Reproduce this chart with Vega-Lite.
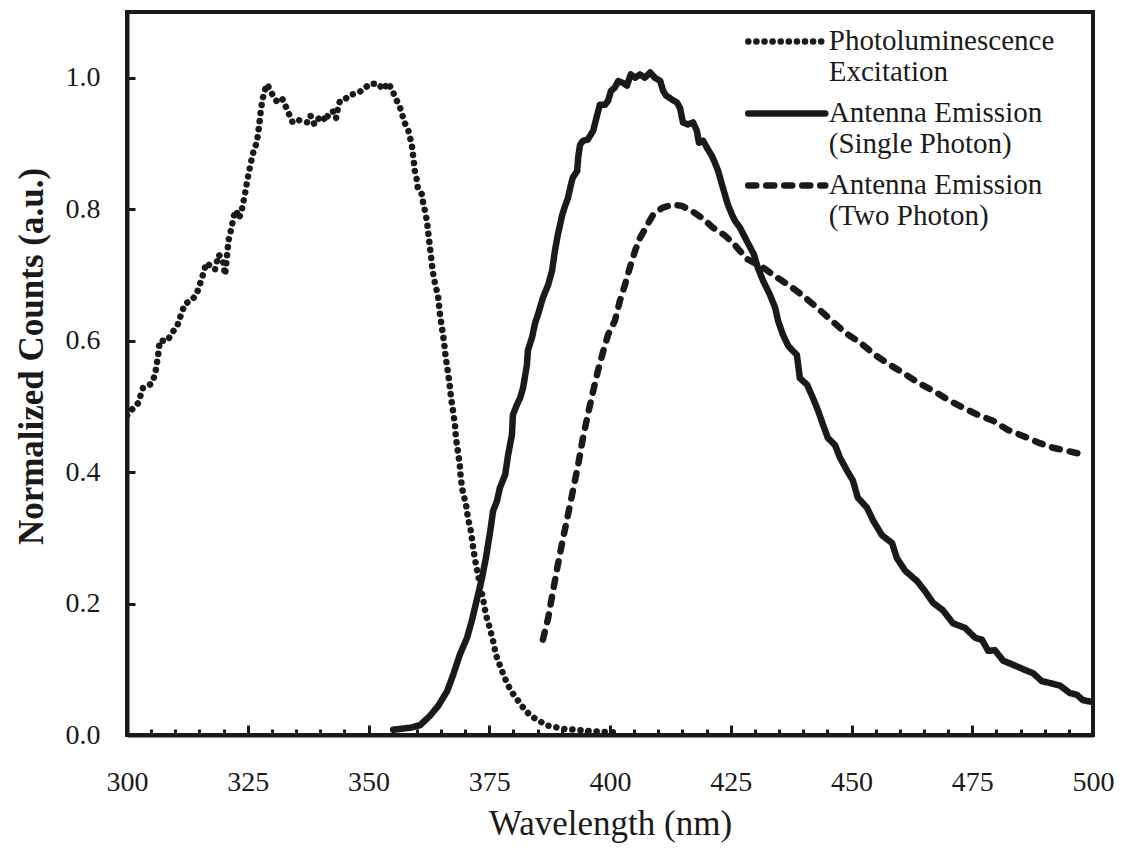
{
  "$schema": "https://vega.github.io/schema/vega-lite/v6.json",
  "width": 966,
  "height": 723,
  "autosize": {"type": "none"},
  "padding": {"left": 127, "top": 12, "right": 29, "bottom": 120},
  "background": "white",
  "config": {
    "view": {"stroke": "#1a1a1a", "strokeWidth": 4, "fill": null},
    "axis": {"zindex": 1, "grid": false, "domainColor": "#1a1a1a", "domainWidth": 4, "tickColor": "#1a1a1a", "tickWidth": 3, "labelFont": "Liberation Serif", "labelColor": "#1a1a1a", "labelFontSize": 28, "titleFont": "Liberation Serif", "titleColor": "#1a1a1a"}
  },
  "datasets": {
    "curves": [
      {"s": "PLE", "w": 300.0, "v": 0.486}, {"s": "PLE", "w": 301.0, "v": 0.495}, {"s": "PLE", "w": 302.3, "v": 0.505}, {"s": "PLE", "w": 303.3, "v": 0.528}, {"s": "PLE", "w": 305.0, "v": 0.534}, {"s": "PLE", "w": 305.8, "v": 0.548}, {"s": "PLE", "w": 306.4, "v": 0.575}, {"s": "PLE", "w": 306.8, "v": 0.600}, {"s": "PLE", "w": 308.4, "v": 0.600}, {"s": "PLE", "w": 309.3, "v": 0.612}, {"s": "PLE", "w": 310.4, "v": 0.622}, {"s": "PLE", "w": 311.2, "v": 0.640}, {"s": "PLE", "w": 312.0, "v": 0.656}, {"s": "PLE", "w": 313.5, "v": 0.662}, {"s": "PLE", "w": 314.5, "v": 0.673}, {"s": "PLE", "w": 315.1, "v": 0.686}, {"s": "PLE", "w": 315.8, "v": 0.702}, {"s": "PLE", "w": 316.4, "v": 0.718}, {"s": "PLE", "w": 317.6, "v": 0.712}, {"s": "PLE", "w": 318.2, "v": 0.708}, {"s": "PLE", "w": 319.0, "v": 0.731}, {"s": "PLE", "w": 319.9, "v": 0.721}, {"s": "PLE", "w": 320.3, "v": 0.700}, {"s": "PLE", "w": 320.7, "v": 0.728}, {"s": "PLE", "w": 321.0, "v": 0.752}, {"s": "PLE", "w": 321.4, "v": 0.764}, {"s": "PLE", "w": 321.8, "v": 0.778}, {"s": "PLE", "w": 322.2, "v": 0.792}, {"s": "PLE", "w": 322.6, "v": 0.798}, {"s": "PLE", "w": 323.2, "v": 0.786}, {"s": "PLE", "w": 323.8, "v": 0.800}, {"s": "PLE", "w": 324.2, "v": 0.815}, {"s": "PLE", "w": 324.6, "v": 0.830}, {"s": "PLE", "w": 325.0, "v": 0.848}, {"s": "PLE", "w": 325.4, "v": 0.862}, {"s": "PLE", "w": 325.8, "v": 0.876}, {"s": "PLE", "w": 326.2, "v": 0.888}, {"s": "PLE", "w": 326.8, "v": 0.900}, {"s": "PLE", "w": 327.1, "v": 0.912}, {"s": "PLE", "w": 327.4, "v": 0.930}, {"s": "PLE", "w": 327.7, "v": 0.950}, {"s": "PLE", "w": 328.0, "v": 0.965}, {"s": "PLE", "w": 328.4, "v": 0.978}, {"s": "PLE", "w": 329.0, "v": 0.990}, {"s": "PLE", "w": 329.6, "v": 0.982}, {"s": "PLE", "w": 330.2, "v": 0.973}, {"s": "PLE", "w": 331.2, "v": 0.962}, {"s": "PLE", "w": 332.2, "v": 0.967}, {"s": "PLE", "w": 333.0, "v": 0.954}, {"s": "PLE", "w": 333.7, "v": 0.942}, {"s": "PLE", "w": 334.3, "v": 0.932}, {"s": "PLE", "w": 335.3, "v": 0.936}, {"s": "PLE", "w": 336.3, "v": 0.934}, {"s": "PLE", "w": 337.4, "v": 0.932}, {"s": "PLE", "w": 338.0, "v": 0.942}, {"s": "PLE", "w": 338.8, "v": 0.929}, {"s": "PLE", "w": 339.4, "v": 0.936}, {"s": "PLE", "w": 340.4, "v": 0.942}, {"s": "PLE", "w": 341.2, "v": 0.934}, {"s": "PLE", "w": 341.8, "v": 0.947}, {"s": "PLE", "w": 342.9, "v": 0.949}, {"s": "PLE", "w": 343.3, "v": 0.939}, {"s": "PLE", "w": 343.7, "v": 0.954}, {"s": "PLE", "w": 344.1, "v": 0.965}, {"s": "PLE", "w": 345.1, "v": 0.967}, {"s": "PLE", "w": 346.2, "v": 0.974}, {"s": "PLE", "w": 347.6, "v": 0.976}, {"s": "PLE", "w": 348.9, "v": 0.982}, {"s": "PLE", "w": 350.3, "v": 0.991}, {"s": "PLE", "w": 352.0, "v": 0.991}, {"s": "PLE", "w": 353.0, "v": 0.982}, {"s": "PLE", "w": 354.0, "v": 0.992}, {"s": "PLE", "w": 354.9, "v": 0.982}, {"s": "PLE", "w": 355.5, "v": 0.970}, {"s": "PLE", "w": 356.3, "v": 0.959}, {"s": "PLE", "w": 356.9, "v": 0.947}, {"s": "PLE", "w": 357.3, "v": 0.934}, {"s": "PLE", "w": 358.2, "v": 0.921}, {"s": "PLE", "w": 358.6, "v": 0.909}, {"s": "PLE", "w": 359.0, "v": 0.896}, {"s": "PLE", "w": 359.2, "v": 0.883}, {"s": "PLE", "w": 359.4, "v": 0.871}, {"s": "PLE", "w": 359.6, "v": 0.858}, {"s": "PLE", "w": 360.0, "v": 0.845}, {"s": "PLE", "w": 360.2, "v": 0.833}, {"s": "PLE", "w": 361.1, "v": 0.822}, {"s": "PLE", "w": 361.3, "v": 0.810}, {"s": "PLE", "w": 361.7, "v": 0.797}, {"s": "PLE", "w": 362.1, "v": 0.782}, {"s": "PLE", "w": 362.3, "v": 0.769}, {"s": "PLE", "w": 362.5, "v": 0.756}, {"s": "PLE", "w": 362.7, "v": 0.744}, {"s": "PLE", "w": 362.9, "v": 0.731}, {"s": "PLE", "w": 363.1, "v": 0.718}, {"s": "PLE", "w": 363.3, "v": 0.706}, {"s": "PLE", "w": 363.6, "v": 0.693}, {"s": "PLE", "w": 364.0, "v": 0.680}, {"s": "PLE", "w": 364.4, "v": 0.668}, {"s": "PLE", "w": 364.6, "v": 0.654}, {"s": "PLE", "w": 364.8, "v": 0.640}, {"s": "PLE", "w": 365.2, "v": 0.620}, {"s": "PLE", "w": 365.6, "v": 0.600}, {"s": "PLE", "w": 366.0, "v": 0.574}, {"s": "PLE", "w": 366.4, "v": 0.554}, {"s": "PLE", "w": 366.8, "v": 0.533}, {"s": "PLE", "w": 367.1, "v": 0.513}, {"s": "PLE", "w": 367.5, "v": 0.493}, {"s": "PLE", "w": 367.9, "v": 0.472}, {"s": "PLE", "w": 368.1, "v": 0.452}, {"s": "PLE", "w": 368.5, "v": 0.432}, {"s": "PLE", "w": 368.9, "v": 0.411}, {"s": "PLE", "w": 369.1, "v": 0.391}, {"s": "PLE", "w": 369.5, "v": 0.371}, {"s": "PLE", "w": 370.2, "v": 0.350}, {"s": "PLE", "w": 370.6, "v": 0.330}, {"s": "PLE", "w": 371.2, "v": 0.310}, {"s": "PLE", "w": 371.6, "v": 0.289}, {"s": "PLE", "w": 372.0, "v": 0.269}, {"s": "PLE", "w": 372.5, "v": 0.250}, {"s": "PLE", "w": 373.1, "v": 0.228}, {"s": "PLE", "w": 373.7, "v": 0.208}, {"s": "PLE", "w": 374.3, "v": 0.183}, {"s": "PLE", "w": 375.1, "v": 0.163}, {"s": "PLE", "w": 375.8, "v": 0.143}, {"s": "PLE", "w": 376.4, "v": 0.122}, {"s": "PLE", "w": 377.4, "v": 0.102}, {"s": "PLE", "w": 378.5, "v": 0.082}, {"s": "PLE", "w": 379.5, "v": 0.067}, {"s": "PLE", "w": 381.0, "v": 0.052}, {"s": "PLE", "w": 382.4, "v": 0.038}, {"s": "PLE", "w": 383.6, "v": 0.029}, {"s": "PLE", "w": 385.5, "v": 0.021}, {"s": "PLE", "w": 386.7, "v": 0.015}, {"s": "PLE", "w": 388.6, "v": 0.012}, {"s": "PLE", "w": 390.7, "v": 0.009}, {"s": "PLE", "w": 392.8, "v": 0.008}, {"s": "PLE", "w": 395.4, "v": 0.006}, {"s": "PLE", "w": 398.1, "v": 0.005}, {"s": "PLE", "w": 401.0, "v": 0.004},

      {"s": "Single", "w": 355.1, "v": 0.008}, {"s": "Single", "w": 358.6, "v": 0.011}, {"s": "Single", "w": 360.7, "v": 0.015}, {"s": "Single", "w": 362.7, "v": 0.029}, {"s": "Single", "w": 364.4, "v": 0.044}, {"s": "Single", "w": 366.3, "v": 0.067}, {"s": "Single", "w": 367.5, "v": 0.091}, {"s": "Single", "w": 368.9, "v": 0.122}, {"s": "Single", "w": 370.4, "v": 0.148}, {"s": "Single", "w": 371.4, "v": 0.174}, {"s": "Single", "w": 372.5, "v": 0.208}, {"s": "Single", "w": 373.5, "v": 0.239}, {"s": "Single", "w": 374.3, "v": 0.269}, {"s": "Single", "w": 375.2, "v": 0.310}, {"s": "Single", "w": 375.8, "v": 0.341}, {"s": "Single", "w": 376.6, "v": 0.356}, {"s": "Single", "w": 377.2, "v": 0.376}, {"s": "Single", "w": 378.3, "v": 0.396}, {"s": "Single", "w": 378.9, "v": 0.426}, {"s": "Single", "w": 379.7, "v": 0.457}, {"s": "Single", "w": 379.9, "v": 0.487}, {"s": "Single", "w": 380.7, "v": 0.502}, {"s": "Single", "w": 381.4, "v": 0.513}, {"s": "Single", "w": 382.0, "v": 0.528}, {"s": "Single", "w": 382.8, "v": 0.563}, {"s": "Single", "w": 383.0, "v": 0.585}, {"s": "Single", "w": 383.9, "v": 0.606}, {"s": "Single", "w": 384.5, "v": 0.627}, {"s": "Single", "w": 385.1, "v": 0.640}, {"s": "Single", "w": 386.1, "v": 0.665}, {"s": "Single", "w": 387.2, "v": 0.685}, {"s": "Single", "w": 388.0, "v": 0.706}, {"s": "Single", "w": 388.6, "v": 0.737}, {"s": "Single", "w": 389.2, "v": 0.761}, {"s": "Single", "w": 390.1, "v": 0.791}, {"s": "Single", "w": 390.7, "v": 0.805}, {"s": "Single", "w": 391.3, "v": 0.817}, {"s": "Single", "w": 391.9, "v": 0.837}, {"s": "Single", "w": 392.3, "v": 0.848}, {"s": "Single", "w": 393.2, "v": 0.858}, {"s": "Single", "w": 393.4, "v": 0.878}, {"s": "Single", "w": 393.8, "v": 0.898}, {"s": "Single", "w": 394.4, "v": 0.904}, {"s": "Single", "w": 395.4, "v": 0.906}, {"s": "Single", "w": 396.5, "v": 0.919}, {"s": "Single", "w": 397.3, "v": 0.942}, {"s": "Single", "w": 397.9, "v": 0.959}, {"s": "Single", "w": 399.0, "v": 0.959}, {"s": "Single", "w": 399.6, "v": 0.965}, {"s": "Single", "w": 400.2, "v": 0.980}, {"s": "Single", "w": 401.0, "v": 0.985}, {"s": "Single", "w": 401.7, "v": 0.995}, {"s": "Single", "w": 402.7, "v": 0.992}, {"s": "Single", "w": 403.5, "v": 0.988}, {"s": "Single", "w": 404.3, "v": 1.005}, {"s": "Single", "w": 405.2, "v": 1.000}, {"s": "Single", "w": 406.2, "v": 1.005}, {"s": "Single", "w": 407.2, "v": 1.000}, {"s": "Single", "w": 408.3, "v": 1.008}, {"s": "Single", "w": 409.3, "v": 1.000}, {"s": "Single", "w": 410.4, "v": 0.995}, {"s": "Single", "w": 411.0, "v": 0.980}, {"s": "Single", "w": 411.6, "v": 0.973}, {"s": "Single", "w": 412.8, "v": 0.967}, {"s": "Single", "w": 413.9, "v": 0.962}, {"s": "Single", "w": 414.5, "v": 0.954}, {"s": "Single", "w": 415.1, "v": 0.932}, {"s": "Single", "w": 416.1, "v": 0.929}, {"s": "Single", "w": 417.2, "v": 0.932}, {"s": "Single", "w": 418.0, "v": 0.919}, {"s": "Single", "w": 418.4, "v": 0.901}, {"s": "Single", "w": 419.3, "v": 0.904}, {"s": "Single", "w": 420.1, "v": 0.893}, {"s": "Single", "w": 421.1, "v": 0.881}, {"s": "Single", "w": 421.7, "v": 0.871}, {"s": "Single", "w": 422.4, "v": 0.858}, {"s": "Single", "w": 423.2, "v": 0.837}, {"s": "Single", "w": 423.8, "v": 0.822}, {"s": "Single", "w": 424.4, "v": 0.807}, {"s": "Single", "w": 425.3, "v": 0.791}, {"s": "Single", "w": 425.9, "v": 0.782}, {"s": "Single", "w": 426.9, "v": 0.772}, {"s": "Single", "w": 428.3, "v": 0.752}, {"s": "Single", "w": 429.8, "v": 0.731}, {"s": "Single", "w": 430.6, "v": 0.711}, {"s": "Single", "w": 431.7, "v": 0.691}, {"s": "Single", "w": 433.1, "v": 0.670}, {"s": "Single", "w": 434.2, "v": 0.650}, {"s": "Single", "w": 434.8, "v": 0.630}, {"s": "Single", "w": 435.8, "v": 0.609}, {"s": "Single", "w": 436.9, "v": 0.592}, {"s": "Single", "w": 438.7, "v": 0.578}, {"s": "Single", "w": 439.3, "v": 0.543}, {"s": "Single", "w": 440.8, "v": 0.533}, {"s": "Single", "w": 442.0, "v": 0.513}, {"s": "Single", "w": 443.1, "v": 0.493}, {"s": "Single", "w": 444.1, "v": 0.472}, {"s": "Single", "w": 445.1, "v": 0.452}, {"s": "Single", "w": 446.6, "v": 0.441}, {"s": "Single", "w": 447.6, "v": 0.422}, {"s": "Single", "w": 449.1, "v": 0.402}, {"s": "Single", "w": 450.3, "v": 0.387}, {"s": "Single", "w": 451.3, "v": 0.361}, {"s": "Single", "w": 453.2, "v": 0.346}, {"s": "Single", "w": 454.5, "v": 0.326}, {"s": "Single", "w": 456.3, "v": 0.304}, {"s": "Single", "w": 458.4, "v": 0.292}, {"s": "Single", "w": 459.4, "v": 0.269}, {"s": "Single", "w": 461.1, "v": 0.250}, {"s": "Single", "w": 463.6, "v": 0.234}, {"s": "Single", "w": 465.2, "v": 0.219}, {"s": "Single", "w": 466.9, "v": 0.201}, {"s": "Single", "w": 468.9, "v": 0.190}, {"s": "Single", "w": 471.0, "v": 0.170}, {"s": "Single", "w": 473.5, "v": 0.163}, {"s": "Single", "w": 475.6, "v": 0.148}, {"s": "Single", "w": 477.0, "v": 0.145}, {"s": "Single", "w": 478.3, "v": 0.128}, {"s": "Single", "w": 479.7, "v": 0.129}, {"s": "Single", "w": 481.4, "v": 0.113}, {"s": "Single", "w": 483.4, "v": 0.107}, {"s": "Single", "w": 485.9, "v": 0.099}, {"s": "Single", "w": 487.6, "v": 0.094}, {"s": "Single", "w": 489.4, "v": 0.082}, {"s": "Single", "w": 491.1, "v": 0.079}, {"s": "Single", "w": 493.2, "v": 0.075}, {"s": "Single", "w": 495.2, "v": 0.064}, {"s": "Single", "w": 496.7, "v": 0.061}, {"s": "Single", "w": 497.9, "v": 0.053}, {"s": "Single", "w": 500.0, "v": 0.050},

      {"s": "Two", "w": 386.1, "v": 0.145}, {"s": "Two", "w": 387.2, "v": 0.178}, {"s": "Two", "w": 388.2, "v": 0.219}, {"s": "Two", "w": 389.2, "v": 0.259}, {"s": "Two", "w": 390.3, "v": 0.300}, {"s": "Two", "w": 391.3, "v": 0.335}, {"s": "Two", "w": 392.3, "v": 0.371}, {"s": "Two", "w": 393.4, "v": 0.411}, {"s": "Two", "w": 394.4, "v": 0.452}, {"s": "Two", "w": 395.4, "v": 0.487}, {"s": "Two", "w": 396.5, "v": 0.523}, {"s": "Two", "w": 397.5, "v": 0.554}, {"s": "Two", "w": 398.6, "v": 0.584}, {"s": "Two", "w": 399.6, "v": 0.609}, {"s": "Two", "w": 401.0, "v": 0.630}, {"s": "Two", "w": 402.1, "v": 0.662}, {"s": "Two", "w": 403.1, "v": 0.685}, {"s": "Two", "w": 404.1, "v": 0.711}, {"s": "Two", "w": 405.2, "v": 0.737}, {"s": "Two", "w": 406.2, "v": 0.756}, {"s": "Two", "w": 407.7, "v": 0.776}, {"s": "Two", "w": 408.9, "v": 0.791}, {"s": "Two", "w": 410.8, "v": 0.802}, {"s": "Two", "w": 413.0, "v": 0.807}, {"s": "Two", "w": 414.9, "v": 0.805}, {"s": "Two", "w": 417.0, "v": 0.797}, {"s": "Two", "w": 419.0, "v": 0.787}, {"s": "Two", "w": 421.3, "v": 0.772}, {"s": "Two", "w": 423.8, "v": 0.760}, {"s": "Two", "w": 425.9, "v": 0.745}, {"s": "Two", "w": 428.4, "v": 0.724}, {"s": "Two", "w": 431.7, "v": 0.711}, {"s": "Two", "w": 434.6, "v": 0.696}, {"s": "Two", "w": 437.3, "v": 0.683}, {"s": "Two", "w": 440.0, "v": 0.668}, {"s": "Two", "w": 442.9, "v": 0.650}, {"s": "Two", "w": 446.0, "v": 0.630}, {"s": "Two", "w": 448.7, "v": 0.612}, {"s": "Two", "w": 451.8, "v": 0.597}, {"s": "Two", "w": 454.9, "v": 0.578}, {"s": "Two", "w": 458.0, "v": 0.563}, {"s": "Two", "w": 460.7, "v": 0.551}, {"s": "Two", "w": 463.8, "v": 0.536}, {"s": "Two", "w": 466.9, "v": 0.524}, {"s": "Two", "w": 470.0, "v": 0.510}, {"s": "Two", "w": 473.1, "v": 0.498}, {"s": "Two", "w": 476.2, "v": 0.487}, {"s": "Two", "w": 479.3, "v": 0.478}, {"s": "Two", "w": 482.4, "v": 0.464}, {"s": "Two", "w": 485.5, "v": 0.455}, {"s": "Two", "w": 489.0, "v": 0.444}, {"s": "Two", "w": 491.7, "v": 0.437}, {"s": "Two", "w": 494.8, "v": 0.432}, {"s": "Two", "w": 498.3, "v": 0.426}
    ]
  },
  "data": {"name": "curves"},
  "mark": {"type": "line", "stroke": "#1a1a1a", "strokeCap": "round", "strokeJoin": "round", "clip": true},
  "encoding": {
    "x": {
      "field": "w", "type": "quantitative",
      "scale": {"domain": [300, 500], "nice": false, "zero": false},
      "axis": {
        "title": "Wavelength  (nm)",
        "titleFontSize": 35, "titleFontWeight": "normal", "titlePadding": 6,
        "values": [300,305,310,315,320,325,330,335,340,345,350,355,360,365,370,375,380,385,390,395,400,405,410,415,420,425,430,435,440,445,450,455,460,465,470,475,480,485,490,495,500],
        "labelExpr": "datum.value % 25 === 0 ? datum.label : ''",
        "labelFlush": false, "labelOverlap": false,
        "tickSize": {"condition": {"test": "datum.value % 25 === 0", "value": -10}, "value": -6},
        "labelPadding": 43
      }
    },
    "y": {
      "field": "v", "type": "quantitative",
      "scale": {"domain": [0, 1.1], "nice": false, "zero": true},
      "axis": {
        "title": "Normalized Counts (a.u.)",
        "titleFontSize": 35, "titleFontWeight": "bold", "titlePadding": 16,
        "titleY": 344,
        "values": [0, 0.2, 0.4, 0.6, 0.8, 1.0],
        "format": ".1f",
        "tickSize": -8,
        "labelPadding": 35
      }
    },
    "strokeWidth": {
      "field": "s", "type": "nominal",
      "scale": {"domain": ["PLE", "Single", "Two"], "range": [6.5, 6.5, 6.5]},
      "legend": null
    },
    "strokeDash": {
      "field": "s", "type": "nominal",
      "scale": {"domain": ["PLE", "Single", "Two"], "range": [[0.1, 8], [1, 0], [8, 10]]},
      "legend": {
        "title": null,
        "orient": "none",
        "legendX": 618,
        "legendY": 7,
        "padding": 0,
        "labelExpr": "datum.label === 'PLE' ? ['Photoluminescence', 'Excitation'] : datum.label === 'Single' ? ['Antenna Emission', '(Single Photon)'] : ['Antenna Emission', '(Two Photon)']",
        "labelFont": "Liberation Serif",
        "labelFontSize": 29,
        "labelLineHeight": 32,
        "labelColor": "#1a1a1a",
        "labelBaseline": "top",
        "labelLimit": 600,
        "labelOffset": 19.5,
        "rowPadding": 4,
        "symbolType": "M-2,0H2",
        "symbolSize": 1482,
        "symbolOffset": 19.25,
        "symbolStrokeWidth": 6,
        "symbolStrokeColor": "#1a1a1a",
        "symbolFillColor": "transparent",
        "encode": {
          "symbols": {"update": {"strokeCap": {"value": "round"}}},
          "labels": {"update": {"dy": {"value": -15}}}
        }
      }
    }
  }
}
